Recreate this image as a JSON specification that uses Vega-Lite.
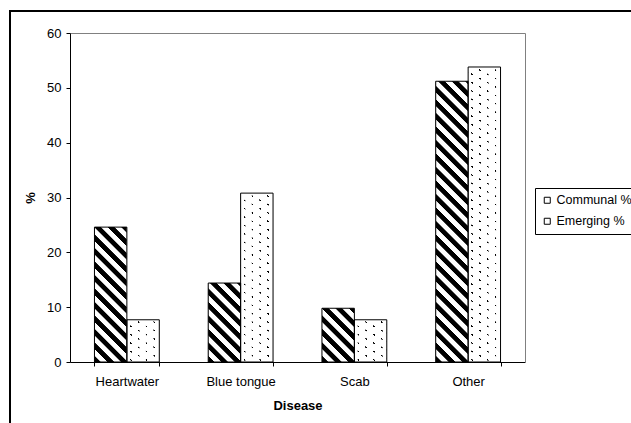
{
"$schema": "https://vega.github.io/schema/vega-lite/v6.json",
"width": 621,
"height": 412,
"autosize": {"type": "none"},
"padding": {"left": 10, "top": 11, "right": 0, "bottom": 0},
"background": "#ffffff",
"config": {
  "font": "Liberation Sans",
  "view": {"stroke": "#000000", "strokeWidth": 2, "strokeDash": [621, 1033, 412], "fill": "#ffffff"},
  "axis": {"grid": false, "domainColor": "#000000", "tickColor": "#000000", "labelColor": "#000000", "titleColor": "#000000", "labelFont": "Liberation Sans", "titleFont": "Liberation Sans", "labelFontSize": 13, "titleFontSize": 13, "titleFontWeight": "bold", "domainWidth": 1, "tickWidth": 1}
},
"data": {"values": [
  {"Disease": "Heartwater", "Group": "Communal %", "Value": 24.6},
  {"Disease": "Heartwater", "Group": "Emerging %", "Value": 7.7},
  {"Disease": "Blue tongue", "Group": "Communal %", "Value": 14.4},
  {"Disease": "Blue tongue", "Group": "Emerging %", "Value": 30.8},
  {"Disease": "Scab", "Group": "Communal %", "Value": 9.8},
  {"Disease": "Scab", "Group": "Emerging %", "Value": 7.7},
  {"Disease": "Other", "Group": "Communal %", "Value": 51.2},
  {"Disease": "Other", "Group": "Emerging %", "Value": 53.8}
]},
"encoding": {
  "x": {"field": "Disease", "type": "nominal", "sort": null, "scale": {"domain": ["Heartwater", "Blue tongue", "Scab", "Other"], "range": [60, 515], "paddingInner": 0.43, "paddingOuter": 0.215}, "axis": null},
  "xOffset": {"field": "Group", "type": "nominal", "scale": {"domain": ["Communal %", "Emerging %"]}}
},
"resolve": {"axis": {"x": "independent", "y": "independent"}},
"layer": [
  {
    "transform": [{"filter": "datum.Group === 'Communal %'"}],
    "mark": {"type": "bar", "fill": "#000000"},
    "encoding": {
      "y": {"field": "Value", "type": "quantitative", "scale": {"domain": [0, 60], "range": [351, 22], "nice": false, "zero": true}, "axis": null}
    }
  },
  {
    "transform": [{"filter": "datum.Group === 'Communal %'"}],
    "mark": {"type": "bar", "fill": {"gradient": "linear", "x1": 0, "y1": 1, "x2": 0.10721, "y2": -0.08797, "stops": [
      {"offset": 0, "color": "rgba(255,255,255,0)"}, {"offset": 0.01648, "color": "rgba(255,255,255,0)"}, {"offset": 0.01868, "color": "#ffffff"}, {"offset": 0.03515, "color": "#ffffff"},
      {"offset": 0.03735, "color": "rgba(255,255,255,0)"}, {"offset": 0.05383, "color": "rgba(255,255,255,0)"}, {"offset": 0.05603, "color": "#ffffff"}, {"offset": 0.07251, "color": "#ffffff"},
      {"offset": 0.07471, "color": "rgba(255,255,255,0)"}, {"offset": 0.09119, "color": "rgba(255,255,255,0)"}, {"offset": 0.09339, "color": "#ffffff"}, {"offset": 0.10986, "color": "#ffffff"},
      {"offset": 0.11206, "color": "rgba(255,255,255,0)"}, {"offset": 0.12854, "color": "rgba(255,255,255,0)"}, {"offset": 0.13074, "color": "#ffffff"}, {"offset": 0.14722, "color": "#ffffff"},
      {"offset": 0.14942, "color": "rgba(255,255,255,0)"}, {"offset": 0.16589, "color": "rgba(255,255,255,0)"}, {"offset": 0.16809, "color": "#ffffff"}, {"offset": 0.18457, "color": "#ffffff"},
      {"offset": 0.18677, "color": "rgba(255,255,255,0)"}, {"offset": 0.20325, "color": "rgba(255,255,255,0)"}, {"offset": 0.20545, "color": "#ffffff"}, {"offset": 0.22192, "color": "#ffffff"},
      {"offset": 0.22412, "color": "rgba(255,255,255,0)"}, {"offset": 0.24060, "color": "rgba(255,255,255,0)"}, {"offset": 0.24280, "color": "#ffffff"}, {"offset": 0.25928, "color": "#ffffff"},
      {"offset": 0.26148, "color": "rgba(255,255,255,0)"}, {"offset": 0.27796, "color": "rgba(255,255,255,0)"}, {"offset": 0.28016, "color": "#ffffff"}, {"offset": 0.29663, "color": "#ffffff"},
      {"offset": 0.29883, "color": "rgba(255,255,255,0)"}, {"offset": 0.31531, "color": "rgba(255,255,255,0)"}, {"offset": 0.31751, "color": "#ffffff"}, {"offset": 0.33399, "color": "#ffffff"},
      {"offset": 0.33619, "color": "rgba(255,255,255,0)"}, {"offset": 0.35266, "color": "rgba(255,255,255,0)"}, {"offset": 0.35486, "color": "#ffffff"}, {"offset": 0.37134, "color": "#ffffff"},
      {"offset": 0.37354, "color": "rgba(255,255,255,0)"}, {"offset": 0.39002, "color": "rgba(255,255,255,0)"}, {"offset": 0.39222, "color": "#ffffff"}, {"offset": 0.40869, "color": "#ffffff"},
      {"offset": 0.41089, "color": "rgba(255,255,255,0)"}, {"offset": 0.42737, "color": "rgba(255,255,255,0)"}, {"offset": 0.42957, "color": "#ffffff"}, {"offset": 0.44605, "color": "#ffffff"},
      {"offset": 0.44825, "color": "rgba(255,255,255,0)"}, {"offset": 0.46473, "color": "rgba(255,255,255,0)"}, {"offset": 0.46693, "color": "#ffffff"}, {"offset": 0.48340, "color": "#ffffff"},
      {"offset": 0.48560, "color": "rgba(255,255,255,0)"}, {"offset": 0.50208, "color": "rgba(255,255,255,0)"}, {"offset": 0.50428, "color": "#ffffff"}, {"offset": 0.52076, "color": "#ffffff"},
      {"offset": 0.52296, "color": "rgba(255,255,255,0)"}, {"offset": 0.53943, "color": "rgba(255,255,255,0)"}, {"offset": 0.54163, "color": "#ffffff"}, {"offset": 0.55811, "color": "#ffffff"},
      {"offset": 0.56031, "color": "rgba(255,255,255,0)"}, {"offset": 0.57679, "color": "rgba(255,255,255,0)"}, {"offset": 0.57899, "color": "#ffffff"}, {"offset": 0.59546, "color": "#ffffff"},
      {"offset": 0.59766, "color": "rgba(255,255,255,0)"}, {"offset": 0.61414, "color": "rgba(255,255,255,0)"}, {"offset": 0.61634, "color": "#ffffff"}, {"offset": 0.63282, "color": "#ffffff"},
      {"offset": 0.63502, "color": "rgba(255,255,255,0)"}, {"offset": 0.65150, "color": "rgba(255,255,255,0)"}, {"offset": 0.65370, "color": "#ffffff"}, {"offset": 0.67017, "color": "#ffffff"},
      {"offset": 0.67237, "color": "rgba(255,255,255,0)"}, {"offset": 0.68885, "color": "rgba(255,255,255,0)"}, {"offset": 0.69105, "color": "#ffffff"}, {"offset": 0.70753, "color": "#ffffff"},
      {"offset": 0.70973, "color": "rgba(255,255,255,0)"}, {"offset": 0.72620, "color": "rgba(255,255,255,0)"}, {"offset": 0.72840, "color": "#ffffff"}, {"offset": 0.74488, "color": "#ffffff"},
      {"offset": 0.74708, "color": "rgba(255,255,255,0)"}, {"offset": 0.76356, "color": "rgba(255,255,255,0)"}, {"offset": 0.76576, "color": "#ffffff"}, {"offset": 0.78223, "color": "#ffffff"},
      {"offset": 0.78443, "color": "rgba(255,255,255,0)"}, {"offset": 0.80091, "color": "rgba(255,255,255,0)"}, {"offset": 0.80311, "color": "#ffffff"}, {"offset": 0.81959, "color": "#ffffff"},
      {"offset": 0.82179, "color": "rgba(255,255,255,0)"}, {"offset": 0.83827, "color": "rgba(255,255,255,0)"}, {"offset": 0.84047, "color": "#ffffff"}, {"offset": 0.85694, "color": "#ffffff"},
      {"offset": 0.85914, "color": "rgba(255,255,255,0)"}, {"offset": 0.87562, "color": "rgba(255,255,255,0)"}, {"offset": 0.87782, "color": "#ffffff"}, {"offset": 0.89430, "color": "#ffffff"},
      {"offset": 0.89650, "color": "rgba(255,255,255,0)"}, {"offset": 0.91297, "color": "rgba(255,255,255,0)"}, {"offset": 0.91517, "color": "#ffffff"}, {"offset": 0.93165, "color": "#ffffff"},
      {"offset": 0.93385, "color": "rgba(255,255,255,0)"}, {"offset": 0.95033, "color": "rgba(255,255,255,0)"}, {"offset": 0.95253, "color": "#ffffff"}, {"offset": 0.96900, "color": "#ffffff"},
      {"offset": 0.97120, "color": "rgba(255,255,255,0)"}, {"offset": 0.98768, "color": "rgba(255,255,255,0)"}, {"offset": 0.98988, "color": "#ffffff"}, {"offset": 1, "color": "#ffffff"}
    ]}},
    "encoding": {
      "x": {"field": "Disease", "type": "nominal", "sort": null, "scale": {"domain": ["Heartwater", "Blue tongue", "Scab", "Other"], "range": [60, 515], "paddingInner": 0.43, "paddingOuter": 0.215},
            "axis": {"orient": "top", "offset": -22, "domainColor": "#808080", "ticks": false, "labels": false, "title": null, "zindex": 1}},
      "y": {"datum": 60, "type": "quantitative", "scale": {"domain": [0, 60], "range": [351, 22], "nice": false, "zero": true},
            "axis": {"orient": "right", "offset": -106, "domainColor": "#808080", "ticks": false, "labels": false, "title": null, "zindex": 1}},
      "y2": {"datum": 0}
    }
  },
  {
    "transform": [{"filter": "datum.Group === 'Emerging %'"}],
    "mark": {"type": "bar", "fill": "#000000"},
    "encoding": {
      "y": {"field": "Value", "type": "quantitative", "scale": {"domain": [0, 60], "range": [351, 22], "nice": false, "zero": true}, "axis": null}
    }
  },
  {
    "transform": [{"filter": "datum.Group === 'Emerging %'"}],
    "mark": {"type": "bar", "fill": {"gradient": "linear", "x1": 0, "y1": 0, "x2": 1, "y2": 0, "stops": [
      {"offset": 0.09254, "color": "#ffffff"}, {"offset": 0.10488, "color": "rgba(255,255,255,0)"}, {"offset": 0.14188, "color": "rgba(255,255,255,0)"}, {"offset": 0.15422, "color": "#ffffff"},
      {"offset": 0.33313, "color": "#ffffff"}, {"offset": 0.34547, "color": "rgba(255,255,255,0)"}, {"offset": 0.38247, "color": "rgba(255,255,255,0)"}, {"offset": 0.39481, "color": "#ffffff"},
      {"offset": 0.57372, "color": "#ffffff"}, {"offset": 0.58606, "color": "rgba(255,255,255,0)"}, {"offset": 0.62306, "color": "rgba(255,255,255,0)"}, {"offset": 0.63540, "color": "#ffffff"},
      {"offset": 0.81432, "color": "#ffffff"}, {"offset": 0.82666, "color": "rgba(255,255,255,0)"}, {"offset": 0.86366, "color": "rgba(255,255,255,0)"}, {"offset": 0.87600, "color": "#ffffff"}
    ]}},
    "encoding": {
      "y": {"datum": 60, "type": "quantitative", "scale": {"domain": [0, 60], "range": [351, 22], "nice": false, "zero": true}, "axis": null},
      "y2": {"datum": 0}
    }
  },
  {
    "transform": [{"filter": "datum.Group === 'Emerging %'"}],
    "mark": {"type": "bar", "fill": {"gradient": "linear", "x1": 0, "y1": 1, "x2": 0.055724, "y2": -0.05010, "stops": [
      {"offset": 0.00979, "color": "#ffffff"}, {"offset": 0.01057, "color": "rgba(255,255,255,0)"}, {"offset": 0.01367, "color": "rgba(255,255,255,0)"}, {"offset": 0.01445, "color": "#ffffff"},
      {"offset": 0.03404, "color": "#ffffff"}, {"offset": 0.03482, "color": "rgba(255,255,255,0)"}, {"offset": 0.03792, "color": "rgba(255,255,255,0)"}, {"offset": 0.03870, "color": "#ffffff"},
      {"offset": 0.05829, "color": "#ffffff"}, {"offset": 0.05907, "color": "rgba(255,255,255,0)"}, {"offset": 0.06217, "color": "rgba(255,255,255,0)"}, {"offset": 0.06295, "color": "#ffffff"},
      {"offset": 0.08254, "color": "#ffffff"}, {"offset": 0.08332, "color": "rgba(255,255,255,0)"}, {"offset": 0.08642, "color": "rgba(255,255,255,0)"}, {"offset": 0.08720, "color": "#ffffff"},
      {"offset": 0.10678, "color": "#ffffff"}, {"offset": 0.10756, "color": "rgba(255,255,255,0)"}, {"offset": 0.11066, "color": "rgba(255,255,255,0)"}, {"offset": 0.11144, "color": "#ffffff"},
      {"offset": 0.13103, "color": "#ffffff"}, {"offset": 0.13181, "color": "rgba(255,255,255,0)"}, {"offset": 0.13491, "color": "rgba(255,255,255,0)"}, {"offset": 0.13569, "color": "#ffffff"},
      {"offset": 0.15528, "color": "#ffffff"}, {"offset": 0.15606, "color": "rgba(255,255,255,0)"}, {"offset": 0.15916, "color": "rgba(255,255,255,0)"}, {"offset": 0.15994, "color": "#ffffff"},
      {"offset": 0.17952, "color": "#ffffff"}, {"offset": 0.18030, "color": "rgba(255,255,255,0)"}, {"offset": 0.18340, "color": "rgba(255,255,255,0)"}, {"offset": 0.18418, "color": "#ffffff"},
      {"offset": 0.20377, "color": "#ffffff"}, {"offset": 0.20455, "color": "rgba(255,255,255,0)"}, {"offset": 0.20765, "color": "rgba(255,255,255,0)"}, {"offset": 0.20843, "color": "#ffffff"},
      {"offset": 0.22802, "color": "#ffffff"}, {"offset": 0.22880, "color": "rgba(255,255,255,0)"}, {"offset": 0.23190, "color": "rgba(255,255,255,0)"}, {"offset": 0.23268, "color": "#ffffff"},
      {"offset": 0.25226, "color": "#ffffff"}, {"offset": 0.25304, "color": "rgba(255,255,255,0)"}, {"offset": 0.25614, "color": "rgba(255,255,255,0)"}, {"offset": 0.25692, "color": "#ffffff"},
      {"offset": 0.27651, "color": "#ffffff"}, {"offset": 0.27729, "color": "rgba(255,255,255,0)"}, {"offset": 0.28039, "color": "rgba(255,255,255,0)"}, {"offset": 0.28117, "color": "#ffffff"},
      {"offset": 0.30076, "color": "#ffffff"}, {"offset": 0.30154, "color": "rgba(255,255,255,0)"}, {"offset": 0.30464, "color": "rgba(255,255,255,0)"}, {"offset": 0.30542, "color": "#ffffff"},
      {"offset": 0.32501, "color": "#ffffff"}, {"offset": 0.32579, "color": "rgba(255,255,255,0)"}, {"offset": 0.32889, "color": "rgba(255,255,255,0)"}, {"offset": 0.32967, "color": "#ffffff"},
      {"offset": 0.34925, "color": "#ffffff"}, {"offset": 0.35003, "color": "rgba(255,255,255,0)"}, {"offset": 0.35313, "color": "rgba(255,255,255,0)"}, {"offset": 0.35391, "color": "#ffffff"},
      {"offset": 0.37350, "color": "#ffffff"}, {"offset": 0.37428, "color": "rgba(255,255,255,0)"}, {"offset": 0.37738, "color": "rgba(255,255,255,0)"}, {"offset": 0.37816, "color": "#ffffff"},
      {"offset": 0.39775, "color": "#ffffff"}, {"offset": 0.39853, "color": "rgba(255,255,255,0)"}, {"offset": 0.40163, "color": "rgba(255,255,255,0)"}, {"offset": 0.40241, "color": "#ffffff"},
      {"offset": 0.42199, "color": "#ffffff"}, {"offset": 0.42277, "color": "rgba(255,255,255,0)"}, {"offset": 0.42587, "color": "rgba(255,255,255,0)"}, {"offset": 0.42665, "color": "#ffffff"},
      {"offset": 0.44624, "color": "#ffffff"}, {"offset": 0.44702, "color": "rgba(255,255,255,0)"}, {"offset": 0.45012, "color": "rgba(255,255,255,0)"}, {"offset": 0.45090, "color": "#ffffff"},
      {"offset": 0.47049, "color": "#ffffff"}, {"offset": 0.47127, "color": "rgba(255,255,255,0)"}, {"offset": 0.47437, "color": "rgba(255,255,255,0)"}, {"offset": 0.47515, "color": "#ffffff"},
      {"offset": 0.49473, "color": "#ffffff"}, {"offset": 0.49551, "color": "rgba(255,255,255,0)"}, {"offset": 0.49861, "color": "rgba(255,255,255,0)"}, {"offset": 0.49939, "color": "#ffffff"},
      {"offset": 0.51898, "color": "#ffffff"}, {"offset": 0.51976, "color": "rgba(255,255,255,0)"}, {"offset": 0.52286, "color": "rgba(255,255,255,0)"}, {"offset": 0.52364, "color": "#ffffff"},
      {"offset": 0.54323, "color": "#ffffff"}, {"offset": 0.54401, "color": "rgba(255,255,255,0)"}, {"offset": 0.54711, "color": "rgba(255,255,255,0)"}, {"offset": 0.54789, "color": "#ffffff"},
      {"offset": 0.56748, "color": "#ffffff"}, {"offset": 0.56826, "color": "rgba(255,255,255,0)"}, {"offset": 0.57136, "color": "rgba(255,255,255,0)"}, {"offset": 0.57214, "color": "#ffffff"},
      {"offset": 0.59172, "color": "#ffffff"}, {"offset": 0.59250, "color": "rgba(255,255,255,0)"}, {"offset": 0.59560, "color": "rgba(255,255,255,0)"}, {"offset": 0.59638, "color": "#ffffff"},
      {"offset": 0.61597, "color": "#ffffff"}, {"offset": 0.61675, "color": "rgba(255,255,255,0)"}, {"offset": 0.61985, "color": "rgba(255,255,255,0)"}, {"offset": 0.62063, "color": "#ffffff"},
      {"offset": 0.64022, "color": "#ffffff"}, {"offset": 0.64100, "color": "rgba(255,255,255,0)"}, {"offset": 0.64410, "color": "rgba(255,255,255,0)"}, {"offset": 0.64488, "color": "#ffffff"},
      {"offset": 0.66446, "color": "#ffffff"}, {"offset": 0.66524, "color": "rgba(255,255,255,0)"}, {"offset": 0.66834, "color": "rgba(255,255,255,0)"}, {"offset": 0.66912, "color": "#ffffff"},
      {"offset": 0.68871, "color": "#ffffff"}, {"offset": 0.68949, "color": "rgba(255,255,255,0)"}, {"offset": 0.69259, "color": "rgba(255,255,255,0)"}, {"offset": 0.69337, "color": "#ffffff"},
      {"offset": 0.71296, "color": "#ffffff"}, {"offset": 0.71374, "color": "rgba(255,255,255,0)"}, {"offset": 0.71684, "color": "rgba(255,255,255,0)"}, {"offset": 0.71762, "color": "#ffffff"},
      {"offset": 0.73720, "color": "#ffffff"}, {"offset": 0.73798, "color": "rgba(255,255,255,0)"}, {"offset": 0.74108, "color": "rgba(255,255,255,0)"}, {"offset": 0.74186, "color": "#ffffff"},
      {"offset": 0.76145, "color": "#ffffff"}, {"offset": 0.76223, "color": "rgba(255,255,255,0)"}, {"offset": 0.76533, "color": "rgba(255,255,255,0)"}, {"offset": 0.76611, "color": "#ffffff"},
      {"offset": 0.78570, "color": "#ffffff"}, {"offset": 0.78648, "color": "rgba(255,255,255,0)"}, {"offset": 0.78958, "color": "rgba(255,255,255,0)"}, {"offset": 0.79036, "color": "#ffffff"},
      {"offset": 0.80995, "color": "#ffffff"}, {"offset": 0.81073, "color": "rgba(255,255,255,0)"}, {"offset": 0.81383, "color": "rgba(255,255,255,0)"}, {"offset": 0.81461, "color": "#ffffff"},
      {"offset": 0.83419, "color": "#ffffff"}, {"offset": 0.83497, "color": "rgba(255,255,255,0)"}, {"offset": 0.83807, "color": "rgba(255,255,255,0)"}, {"offset": 0.83885, "color": "#ffffff"},
      {"offset": 0.85844, "color": "#ffffff"}, {"offset": 0.85922, "color": "rgba(255,255,255,0)"}, {"offset": 0.86232, "color": "rgba(255,255,255,0)"}, {"offset": 0.86310, "color": "#ffffff"},
      {"offset": 0.88269, "color": "#ffffff"}, {"offset": 0.88347, "color": "rgba(255,255,255,0)"}, {"offset": 0.88657, "color": "rgba(255,255,255,0)"}, {"offset": 0.88735, "color": "#ffffff"},
      {"offset": 0.90693, "color": "#ffffff"}, {"offset": 0.90771, "color": "rgba(255,255,255,0)"}, {"offset": 0.91081, "color": "rgba(255,255,255,0)"}, {"offset": 0.91159, "color": "#ffffff"},
      {"offset": 0.93118, "color": "#ffffff"}, {"offset": 0.93196, "color": "rgba(255,255,255,0)"}, {"offset": 0.93506, "color": "rgba(255,255,255,0)"}, {"offset": 0.93584, "color": "#ffffff"},
      {"offset": 0.95543, "color": "#ffffff"}, {"offset": 0.95621, "color": "rgba(255,255,255,0)"}, {"offset": 0.95931, "color": "rgba(255,255,255,0)"}, {"offset": 0.96009, "color": "#ffffff"},
      {"offset": 0.97967, "color": "#ffffff"}, {"offset": 0.98045, "color": "rgba(255,255,255,0)"}, {"offset": 0.98355, "color": "rgba(255,255,255,0)"}, {"offset": 0.98433, "color": "#ffffff"}
    ]}},
    "encoding": {
      "y": {"datum": 60, "type": "quantitative", "scale": {"domain": [0, 60], "range": [351, 22], "nice": false, "zero": true}, "axis": null},
      "y2": {"datum": 0}
    }
  },
  {
    "mark": {"type": "bar", "fill": "transparent", "strokeWidth": 1},
    "encoding": {
      "x": {"field": "Disease", "type": "nominal", "sort": null, "scale": {"domain": ["Heartwater", "Blue tongue", "Scab", "Other"], "range": [60, 515], "paddingInner": 0.43, "paddingOuter": 0.215},
            "axis": {"orient": "bottom", "offset": -61, "title": "Disease", "tickBand": "extent", "labelAngle": 0, "tickSize": 4, "labelPadding": 9, "titlePadding": 11, "zindex": 1}},
      "y": {"field": "Value", "type": "quantitative", "scale": {"domain": [0, 60], "range": [351, 22], "nice": false, "zero": true},
            "axis": {"orient": "left", "offset": -60, "title": "%", "values": [0, 10, 20, 30, 40, 50, 60], "tickSize": 4, "labelPadding": 5, "titlePadding": 9, "zindex": 1}},
      "stroke": {"field": "Group", "type": "nominal", "scale": {"domain": ["Communal %", "Emerging %"], "range": ["#000000", "#000000"]},
                 "legend": {"title": null, "orient": "none", "legendX": 525, "legendY": 177, "padding": 6, "rowPadding": 8, "strokeColor": "#000000", "fillColor": "#ffffff",
                            "symbolType": "square", "symbolSize": 36, "symbolStrokeWidth": 1, "symbolFillColor": "#ffffff", "symbolStrokeColor": "#000000",
                            "labelOffset": 3, "labelFont": "Liberation Sans", "labelFontSize": 12.5, "labelColor": "#000000",
                            "encode": {"symbols": {"update": {"fill": {"value": "#ffffff"}, "stroke": {"value": "#000000"}, "opacity": {"value": 1}}}}}}
    }
  }
]
}
